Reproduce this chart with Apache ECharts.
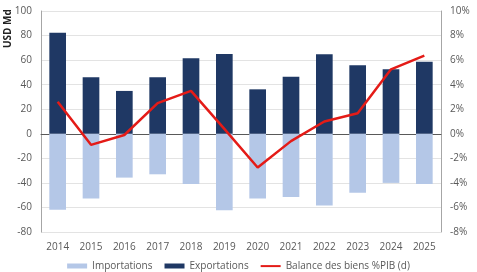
<!DOCTYPE html>
<html>
<head>
<meta charset="utf-8">
<script src="https://cdn.jsdelivr.net/npm/echarts@6/dist/echarts.min.js"></script>
<style>
  html, body { margin: 0; padding: 0; background: #fff; }
  #chart { width: 477px; height: 272px; }
</style>
</head>
<body>
<div id="chart"></div>
<script>
var years = ['2014', '2015', '2016', '2017', '2018', '2019', '2020', '2021', '2022', '2023', '2024', '2025'];
var importations = [-61.8, -52.8, -35.7, -33, -41, -62.3, -52.8, -51.5, -58.5, -48, -40, -41];
var exportations = [82.3, 46, 34.9, 46, 61.5, 65, 36.2, 46.5, 64.7, 55.8, 52.5, 58.7];
var balance = [2.6, -0.9, -0.1, 2.5, 3.5, 0.4, -2.75, -0.6, 1.0, 1.67, 5.25, 6.36];

var txt = '#595959';
var font = 'Open Sans';

var myChart = echarts.init(document.getElementById('chart'));

option = {
    animation: false,
    textStyle: { fontFamily: font },
    grid: { left: 41, right: 36, top: 11, bottom: 40 },
    graphic: [{
        type: 'text',
        x: 3,
        y: 48,
        rotation: Math.PI / 2,
        style: {
            text: 'USD Md',
            fill: '#222',
            font: 'bold 10px ' + font,
            verticalAlign: 'top'
        }
    }],
    legend: {
        top: 256,
        left: 'center',
        itemGap: 12,
        itemWidth: 20,
        itemHeight: 5,
        textStyle: { color: txt, fontSize: 10, fontFamily: font },
        data: [
            { name: 'Importations', icon: 'rect' },
            { name: 'Exportations', icon: 'rect' },
            { name: 'Balance des biens %PIB (d)', icon: 'path://M0,0L0,0M0,1.6h20v2h-20zM0,5L0,5' }
        ]
    },
    xAxis: {
        type: 'category',
        data: years,
        axisLine: { onZero: true, lineStyle: { color: '#595959', width: 1 } },
        axisTick: { show: false },
        axisLabel: { color: txt, fontSize: 10, margin: 10 }
    },
    yAxis: [{
        type: 'value',
        min: -80,
        max: 100,
        interval: 20,
        axisLine: { show: true, lineStyle: { color: '#a6a6a6' } },
        axisTick: { show: false },
        axisLabel: { color: txt, fontSize: 10, margin: 9 },
        splitLine: { lineStyle: { color: '#e3e3e3' } }
    }, {
        type: 'value',
        min: -8,
        max: 10,
        interval: 2,
        axisLine: { show: true, lineStyle: { color: '#a6a6a6' } },
        axisTick: { show: false },
        axisLabel: { color: txt, fontSize: 10, margin: 9, formatter: '{value}%' },
        splitLine: { show: false }
    }],
    series: [{
        name: 'Importations',
        type: 'bar',
        stack: 'trade',
        barWidth: '50%',
        itemStyle: { color: '#b4c7e7' },
        data: importations
    }, {
        name: 'Exportations',
        type: 'bar',
        stack: 'trade',
        barWidth: '50%',
        itemStyle: { color: '#1f3864' },
        data: exportations
    }, {
        name: 'Balance des biens %PIB (d)',
        type: 'line',
        yAxisIndex: 1,
        symbol: 'none',
        lineStyle: { color: '#e41b17', width: 2.5 },
        itemStyle: { color: '#e41b17' },
        z: 5,
        data: balance
    }]
};

myChart.setOption(option, true);
</script>
</body>
</html>
